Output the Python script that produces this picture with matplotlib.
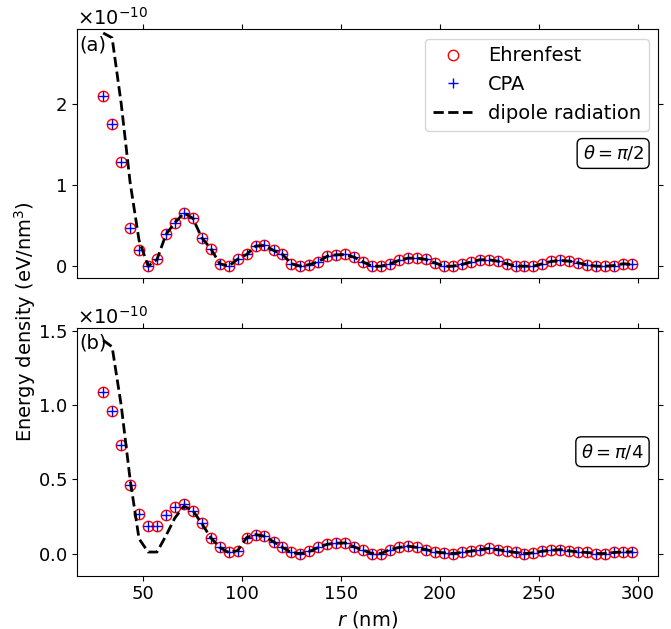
import matplotlib
matplotlib.use("Agg")
import matplotlib.pyplot as plt
import numpy as np

# radial positions (nm)
r = [29.8, 34.3, 38.9, 43.4, 47.9, 52.5, 57.0, 61.5, 66.0, 70.6,
     75.1, 79.6, 84.2, 88.7, 93.2, 97.8, 102.3, 106.8, 111.3, 115.9,
     120.4, 124.9, 129.5, 134.0, 138.5, 143.1, 147.6, 152.1, 156.6, 161.2,
     165.7, 170.2, 174.8, 179.3, 183.8, 188.4, 192.9, 197.4, 201.9, 206.5,
     211.0, 215.5, 220.1, 224.6, 229.1, 233.7, 238.2, 242.7, 247.2, 251.8,
     256.3, 260.8, 265.4, 269.9, 274.4, 279.0, 283.5, 288.0, 292.5, 297.1]

# theta = pi/2 (units of 1e-10 eV/nm^3)
ehr_a = [2.09, 1.745, 1.28, 0.474, 0.202, 0.0, 0.083, 0.39, 0.535, 0.654,
         0.589, 0.35, 0.215, 0.03, 0.0, 0.086, 0.144, 0.247, 0.255, 0.194,
         0.144, 0.03, 0.0, 0.02, 0.054, 0.123, 0.14, 0.144, 0.111, 0.05,
         0.0, 0.0, 0.03, 0.07, 0.099, 0.099, 0.083, 0.041, 0.0, 0.0,
         0.021, 0.05, 0.079, 0.079, 0.062, 0.03, 0.0, 0.0, 0.0, 0.03,
         0.058, 0.07, 0.062, 0.041, 0.016, 0.0, 0.0, 0.008, 0.03, 0.021]
cpa_a = ehr_a
dip_a = [2.87, 2.81, 2.0, 1.03, 0.32, 0.0, 0.083, 0.39, 0.535, 0.654,
         0.589, 0.35, 0.215, 0.03, 0.0, 0.086, 0.144, 0.247, 0.255, 0.194,
         0.144, 0.03, 0.0, 0.02, 0.054, 0.123, 0.14, 0.144, 0.111, 0.05,
         0.0, 0.0, 0.03, 0.07, 0.099, 0.099, 0.083, 0.041, 0.0, 0.0,
         0.021, 0.05, 0.079, 0.079, 0.062, 0.03, 0.0, 0.0, 0.0, 0.03,
         0.058, 0.07, 0.062, 0.041, 0.016, 0.0, 0.0, 0.008, 0.03, 0.021]

# theta = pi/4
ehr_b = [1.088, 0.964, 0.736, 0.466, 0.27, 0.189, 0.189, 0.257, 0.311, 0.333,
         0.286, 0.203, 0.106, 0.041, 0.007, 0.02, 0.108, 0.128, 0.117, 0.079,
         0.041, 0.007, 0.0, 0.014, 0.041, 0.063, 0.07, 0.072, 0.045, 0.022,
         0.0, 0.0, 0.027, 0.041, 0.05, 0.041, 0.027, 0.011, 0.005, 0.0,
         0.007, 0.016, 0.027, 0.034, 0.027, 0.016, 0.007, 0.0, 0.005, 0.016,
         0.022, 0.027, 0.018, 0.011, 0.007, 0.0, 0.0, 0.007, 0.011, 0.011]
cpa_b = ehr_b
dip_b = [1.44, 1.396, 1.0, 0.5, 0.1, 0.01, 0.01, 0.12, 0.24, 0.32,
         0.29, 0.203, 0.106, 0.041, 0.007, 0.02, 0.108, 0.128, 0.117, 0.079,
         0.041, 0.007, 0.0, 0.014, 0.041, 0.063, 0.07, 0.072, 0.045, 0.022,
         0.0, 0.0, 0.027, 0.041, 0.05, 0.041, 0.027, 0.011, 0.005, 0.0,
         0.007, 0.016, 0.027, 0.034, 0.027, 0.016, 0.007, 0.0, 0.005, 0.016,
         0.022, 0.027, 0.018, 0.011, 0.007, 0.0, 0.0, 0.007, 0.011, 0.011]

scale = 1e-10
fs_tick = 13
fs = 14

fig = plt.figure(figsize=(6.71, 6.29), dpi=100)
ax1 = fig.add_axes([0.1143, 0.558, 0.8667, 0.396])
ax2 = fig.add_axes([0.1143, 0.0847, 0.8667, 0.3943])

panels = [(ax1, ehr_a, cpa_a, dip_a, "(a)", r"$\theta = \pi/2$", (-0.146, 2.92)),
          (ax2, ehr_b, cpa_b, dip_b, "(b)", r"$\theta = \pi/4$", (-0.15, 1.525))]

for ax, ehr, cpa, dip, lab, th, yl in panels:
    ax.plot(r, np.array(ehr) * scale, "o", mfc="none", mec="red", ms=7.5, mew=1.0,
            label="Ehrenfest")
    ax.plot(r, np.array(cpa) * scale, "+", color="blue", ms=7, mew=1.0, label="CPA")
    ax.plot(r, np.array(dip) * scale, "--", color="black", lw=2.0,
            label="dipole radiation")
    ax.set_xlim(16.4, 310.3)
    ax.set_ylim(yl[0] * scale, yl[1] * scale)
    ax.set_xticks([50, 100, 150, 200, 250, 300])
    ax.ticklabel_format(axis="y", style="sci", scilimits=(0, 0), useMathText=True)
    ax.tick_params(direction="out", top=True, right=True, labelsize=fs_tick)
    ax.yaxis.get_offset_text().set_fontsize(fs)
    ax.text(0.004, 0.975, lab, transform=ax.transAxes, ha="left", va="top",
            fontsize=fs)
    ax.text(0.975, 0.5, th, transform=ax.transAxes, ha="right", va="center",
            fontsize=13,
            bbox=dict(boxstyle="round,pad=0.3", fc="white", ec="black"))

ax1.set_yticks(np.array([0, 1, 2]) * scale)
ax1.tick_params(labelbottom=False)
ax2.set_yticks(np.array([0.0, 0.5, 1.0, 1.5]) * scale)
ax1.legend(loc="upper right", fontsize=fs, borderaxespad=0.5)

ax2.set_xlabel(r"$r$ (nm)", fontsize=fs)
fig.text(0.037, 0.488, r"Energy density (eV/nm$^3$)", rotation=90,
         ha="center", va="center", fontsize=fs)

fig.savefig("out.png", dpi=100)
